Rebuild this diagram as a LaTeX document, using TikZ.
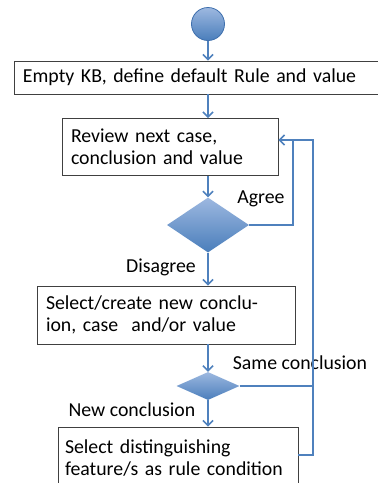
\documentclass[tikz,border=0pt]{standalone}
\usepackage{fontspec}
\setmainfont{Carlito}
\usetikzlibrary{shapes.geometric,arrows.meta}
\definecolor{flowblue}{HTML}{4F81BD}
\definecolor{shadetop}{HTML}{9DB8E0}
\definecolor{shadebot}{HTML}{4A7EBB}
\definecolor{rimblue}{HTML}{3E6FAD}

\begin{document}
\begin{tikzpicture}[x=1pt,y=-1pt,font=\fontsize{19.8}{22.5}\selectfont]
	\tikzstyle{blob} = [circle,top color=shadetop,bottom color=shadebot,draw=rimblue,line width=0.8pt,minimum size=33pt,inner sep=0pt]
	\tikzstyle{test} = [diamond,top color=shadetop,bottom color=shadebot,inner sep=0pt]
	\tikzstyle{task} = [rectangle,draw=black!75,line width=0.8pt,align=left,inner xsep=9pt,inner ysep=0pt]
	\tikzstyle{flow} = [draw=flowblue,line width=1.6pt,-{Straight Barb[length=5pt,width=10pt]}]
	\tikzstyle{wire} = [draw=flowblue,line width=1.6pt]
	
	\useasboundingbox (0,0) rectangle (378,483);
	\clip (0,0) rectangle (378,483);
	
	\node[blob] (start) at (208,24) {};
	\node[task,text width=368pt,minimum height=33pt] (kb) at (207,77.5) {Empty KB, define default Rule and value};
	\node[task,text width=198pt,minimum height=57pt] (review) at (170,147) {Review next case,\\conclusion and value};
	\node[test,minimum width=82pt,minimum height=55pt] (agree) at (208,225) {};
	\node[task,text width=240pt,minimum height=58pt] (select) at (166,315) {Select/create new conclu-\\ion, case~ and/or value};
	\node[test,minimum width=63pt,minimum height=28pt] (same) at (208,386) {};
	\node[task,text width=226pt,inner xsep=7pt,minimum height=62pt] (feature) at (178,458) {Select distinguishing\\feature/s as rule condition};
	
	\node (lagree) at (261,199) {Agree};
	\node (ldisagree) at (161,267) {Disagree};
	\node (lsame) at (300,363) {Same conclusion};
	\node (lnew) at (132,410) {New conclusion};
	
	\coordinate (inner) at (293,140);
	\coordinate (outer) at (313,140);
	
	\draw[flow] (start) -- (start |- kb.north);
	\draw[flow] (kb.south -| start) -- (review.north -| start);
	\draw[flow] (review.south -| agree) -- (agree.north);
	\draw[flow] (agree) -- (agree |- select.north);
	\draw[flow] (select.south -| same) -- (same.north);
	\draw[flow] (same) -- (same |- feature.north);
	\draw[flow] (agree.east) -| (inner) -- (inner -| review.east);
	\draw[wire] (feature.east |- 0,455) -| (outer) -- (inner);
	\draw[wire] (same.east) -- (same.east -| outer);
\end{tikzpicture}
\end{document}
